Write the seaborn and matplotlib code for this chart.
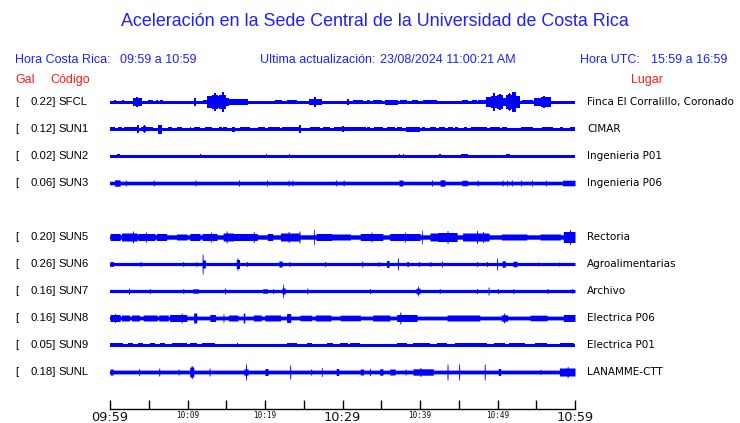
import numpy as np
import pandas as pd
import matplotlib
matplotlib.use("Agg")
import matplotlib.pyplot as plt
from matplotlib import transforms
import seaborn as sns

# ---------------- data ----------------
codes = ["SFCL", "SUN1", "SUN2", "SUN3", "SUN5", "SUN6", "SUN7", "SUN8", "SUN9", "SUNL"]
gal = ["0.22", "0.12", "0.02", "0.06", "0.20", "0.26", "0.16", "0.16", "0.05", "0.18"]
places = ["Finca El Corralillo, Coronado", "CIMAR", "Ingenieria P01", "Ingenieria P06",
          "Rectoria", "Agroalimentarias", "Archivo", "Electrica P06", "Electrica P01", "LANAMME-CTT"]
rows = [0, 1, 2, 3, 5, 6, 7, 8, 9, 10]          # row 4 is empty
tick_minutes = list(range(0, 61, 5))              # minutes after 09:59
tick_labels = ["09:59", "", "10:09", "", "10:19", "", "10:29", "", "10:39", "", "10:49", "", "10:59"]

# background noise level of each trace (half amplitude, pixels of the reference)
noise = [0.0, 0.0, 0.0, 1.8, 2.2, 1.6, 1.6, 1.9, 0.0, 1.9]

# bursts: (start minute, end minute, half amplitude)
sfcl = [(0.5,0.8,2),(1.6,1.8,2),(2.5,2.7,1.5),(3.0,4.1,3.5),(3.4,3.6,5),(4.9,5.6,2),(5.9,6.2,2),
        (6.5,6.8,2),(10.9,11.1,4),(12.0,12.6,2),(12.6,13.2,5.5),(13.2,13.9,7),(13.5,13.6,9),(13.9,14.2,5.5),
        (14.2,14.9,7),(14.5,14.6,9.5),(14.9,15.3,4),(15.3,17.7,2.2),(18.2,18.5,1.5),
        (21.3,22.2,2),(22.8,24.1,2),(25.8,27.3,2.5),(26.4,26.5,5),(28.6,29.0,1.5),(30.1,30.2,1.5),
        (30.6,30.8,3),(31.4,32.6,2),(33.2,33.5,2),(33.9,35.1,2),(35.5,37.2,2.5),(37.4,38.3,2),
        (39.0,39.7,2),(40.4,42.2,2),(44.7,44.8,1.5),(45.4,46.2,2),(46.7,47.4,2),(47.5,48.6,2),
        (48.6,49.2,4.5),(49.2,50.0,6),(49.5,49.6,8.5),(50.0,50.6,6.5),(50.3,50.4,8),(50.7,51.2,4),
        (51.2,51.9,7),(51.5,51.6,9),(51.9,52.3,9.5),(52.3,52.9,5.5),(53.2,54.6,2),(54.8,55.7,3.5),
        (55.7,56.8,4.5),(56.0,56.1,6),(57.4,58.1,1.5),(59.4,59.7,1.5)]
sun1 = [(0.0,0.65,2),(1.0,1.5,2),(1.9,3.6,2),(3.6,3.7,4),(4.1,5.5,2),(4.4,4.5,4),(6.2,6.7,4.5),
        (7.5,8.0,2),(8.6,9.3,2),(10.3,10.4,2),(10.9,11.6,2),(12.3,13.2,2),(14.0,14.5,2),
        (14.6,15.1,2),(15.8,16.1,2.5),(16.8,18.1,2),(19.1,20.0,2),(20.4,21.9,2),(22.3,24.5,2),
        (24.5,24.6,4),(25.1,25.2,2),(25.8,27.1,2),(27.5,28.4,2),(29.0,30.9,2),(30.0,30.1,3),
        (31.0,33.0,2),(33.2,33.6,2),(34.0,35.3,2),(35.7,36.8,2),(37.0,37.7,2),(38.2,40.0,2.5),
        (40.3,40.6,2),(41.3,42.0,2),(42.4,43.2,2),(43.6,44.3,2),(44.5,44.9,2),(45.7,46.0,2),
        (46.6,48.6,2),(49.0,50.3,2),(50.6,51.2,2),(53.0,54.6,2),(55.2,55.3,6),(55.8,57.2,2),
        (58.0,58.4,2),(59.3,60.0,2.2)]
sun2 = [(0.9,1.3,2),(1.5,1.6,1.5),(4.5,4.6,1.5),(5.1,5.2,2),(5.6,5.7,1.5),(8.6,8.7,1.5),
        (9.3,9.4,1.5),(9.6,9.7,1.5),(10.8,10.9,1.5),(11.1,11.2,1.5),(11.6,11.8,2),(12.0,12.1,1.5),
        (12.6,12.7,1.5),(13.2,13.3,1.5),(20.1,20.2,2),(23.1,23.2,2),(24.9,25.0,1.5),(27.9,28.0,1.5),
        (28.3,28.4,1.5),(29.1,29.2,2),(37.0,37.1,1.5),(37.3,37.4,2),(37.8,37.9,2),(42.5,42.7,2),
        (45.3,46.2,2),(47.3,47.4,1.5),(51.1,51.6,2),(52.8,52.9,1.5),(58.5,58.6,1.5),(59.0,59.1,1.5),
        (59.7,59.8,1.5)]
sun3 = [(0.6,1.3,3.2),(2.0,2.1,3),(5.6,5.7,3),(11.0,11.1,3),(16.6,16.7,3),(20.2,20.3,3),
        (23.0,23.1,3),(23.5,23.6,3),(29.1,29.2,3),(30.1,30.2,3),(37.3,37.8,3),(41.5,41.6,3),
        (42.6,43.2,3.2),(45.4,46.1,2.8),(47.4,47.5,3),(50.6,50.7,3),(51.2,51.3,3),(51.8,51.9,3),
        (53.0,53.1,3),(54.4,54.5,3),(56.2,56.3,3),(58.4,60.0,2.8)]
sun5 = [(0.0,1.3,3.5),(1.5,3.5,4),(2.9,3.0,6),(3.6,5.8,3.5),(4.6,4.7,5),(6.0,7.3,3.5),(8.6,9.9,3),
        (10.3,11.6,3.5),(11.9,13.8,3.5),(13.0,13.1,5),(14.6,15.9,4),(15.0,15.1,6),(15.9,19.0,3.5),
        (18.5,18.6,5.5),(20.3,21.0,3.5),(22.0,24.5,4),(23.0,23.1,5.5),(24.4,24.5,6),(26.3,26.4,8),
        (26.6,28.6,3.5),(28.6,31.0,3),(32.3,35.2,3.5),(33.7,33.8,5),(36.1,40.0,3.5),(38.0,38.1,5),
        (40.2,40.3,7),(41.3,42.6,4),(42.3,44.8,4.5),(43.5,43.6,6.5),(45.5,48.9,4),(47.3,47.4,6.5),
        (48.1,48.2,5.5),(50.5,53.8,3),(55.5,58.1,3),(58.5,60.0,5.5),(59.3,59.4,7.5)]
sun6 = [(0.0,0.4,2.5),(3.9,4.0,2.5),(9.4,9.5,2.5),(11.1,11.2,2.5),(11.9,12.0,10),(12.0,12.3,4),
        (16.3,16.7,4.5),(16.4,16.5,6),(17.6,17.7,2.5),(21.8,22.2,3),(23.1,23.2,2.5),(27.7,27.8,2.5),
        (32.5,32.6,3),(34.6,34.7,2.5),(35.7,36.0,3.5),(37.1,37.2,6),(38.3,38.5,2.5),(39.8,39.9,2.5),
        (41.3,41.4,2.5),(42.8,42.9,3),(47.3,47.4,2.5),(48.6,48.7,2.5),(49.9,50.0,6),(50.6,51.0,3.2),
        (52.0,52.5,2.8),(55.2,55.3,2),(57.9,58.0,2)]
sun7 = [(2.4,2.5,3),(5.1,5.2,2.5),(9.4,9.5,2.5),(10.7,11.4,2.2),(14.8,14.9,3),(19.7,20.3,2.2),
        (21.0,21.1,2.5),(22.2,22.6,3),(22.3,22.4,7),(25.4,25.5,3),(33.5,33.6,2.5),(39.5,40.0,2.8),
        (39.7,39.8,5),(42.5,42.6,2.5),(47.3,47.4,2.5),(48.8,48.9,4),(50.0,50.1,2.5),(52.0,52.1,2.5),
        (56.4,56.5,2.5),(59.6,59.7,2.5)]
sun8 = [(0.0,1.3,3.5),(0.6,0.7,4.5),(1.5,2.5,3),(2.8,3.8,3),(4.3,6.1,3),(6.3,7.5,3),(7.7,9.9,3.5),
        (9.2,9.3,5),(10.8,11.2,5),(12.9,13.6,3.5),(14.6,14.7,4.5),(15.3,16.5,3),(17.2,17.4,5),
        (18.5,19.5,3),(20.0,22.0,3),(22.8,23.3,4.5),(24.5,26.0,2.8),(26.5,28.5,3),(29.7,32.3,2.8),
        (33.9,36.1,3),(37.0,39.6,3.5),(37.4,37.5,6),(43.5,47.7,3),(50.5,51.3,3.2),(50.8,50.9,5),
        (54.2,56.4,2.8),(58.5,60.0,3.5)]
sun9 = [(0.0,1.7,2.2),(2.3,3.0,2),(3.6,4.3,2),(5.2,5.8,2),(6.5,7.1,2),(8.0,9.9,2),
        (10.3,11.2,2),(11.9,13.5,2),(14.8,14.9,2),(16.4,16.5,2),(18.3,18.4,2),(20.0,20.1,1.5),
        (21.9,22.0,1.5),(22.9,24.1,2),(25.4,26.1,2),(27.5,27.6,1.5),(28.0,28.8,2),(29.7,30.7,2),
        (31.0,32.3,2),(33.7,33.8,1.5),(35.7,35.8,1.5),(37.0,38.3,2),(39.1,41.3,2),(42.2,43.5,2),
        (44.5,48.7,2),(49.5,51.0,2),(51.5,53.6,2),(54.8,56.4,2),(58.0,59.9,2)]
sunl = [(0.0,0.4,3),(3.7,3.8,3.5),(6.3,6.4,4),(8.8,8.9,3),(10.3,10.8,5),(10.5,10.6,6.5),(12.8,12.9,4),
        (17.3,17.8,3.2),(17.5,17.6,8),(20.0,20.4,3.5),(23.2,23.3,7),(25.9,26.0,3),(27.3,27.4,4.5),
        (29.2,29.5,3.5),(32.3,32.7,3),(33.5,33.6,3.5),(34.8,35.2,3.2),(36.1,36.8,3),(38.1,38.2,3),
        (39.1,41.7,3.2),(40.0,40.1,4.5),(43.5,43.6,8),(45.0,45.1,8),(48.3,48.4,8),(50.1,50.4,3.5),
        (55.5,55.6,2.5),(58.0,60.0,4),(59.0,59.1,5.5)]
bursts = [sfcl, sun1, sun2, sun3, sun5, sun6, sun7, sun8, sun9, sunl]

# ---------------- style ----------------
BLUE = "#0000ff"
HBLUE = "#1f1fff"
RED = "#ff1a1a"
W, H = 740, 423
ROW_PX = 27.0

sns.set_style("white")
plt.rcParams["font.family"] = ["Liberation Sans", "DejaVu Sans"]

fig = plt.figure(figsize=(W / 100, H / 100), dpi=100)
fig.patch.set_facecolor("white")
ax = fig.add_axes([110 / W, 1 - 409 / H, 465 / W, (409 - 88) / H])

t = np.linspace(0, 60, 3001)
for row, base, bl in zip(rows, noise, bursts):
    env = np.full_like(t, base)
    for s, e, a in bl:
        m = (t >= s) & (t <= e)
        env[m] = np.maximum(env[m], a)
    ax.fill_between(t, row - env / ROW_PX, row + env / ROW_PX, where=env > 0, color=BLUE,
                    lw=0, antialiased=False)

base_df = pd.DataFrame({"t": np.repeat([[0.0, 60.0]], len(rows), axis=0).ravel(),
                        "row": np.repeat(rows, 2),
                        "code": np.repeat(codes, 2)})
sns.lineplot(data=base_df, x="t", y="row", units="code", estimator=None, color=BLUE,
             lw=0.75, ax=ax, antialiased=False)

ax.set_xlim(0, 60)
ax.set_ylim((409 - 102) / ROW_PX, (88 - 102) / ROW_PX)
ax.set_xlabel("")
ax.set_ylabel("")
ax.set_yticks([])
for side in ["left", "right", "top"]:
    ax.spines[side].set_visible(False)
ax.spines["bottom"].set_color("black")
ax.spines["bottom"].set_linewidth(1.0)
ax.set_facecolor("none")
ax.set_xticks(tick_minutes)
ax.set_xticklabels(tick_labels)
ax.tick_params(axis="x", direction="in", length=6.5, width=1.0, color="black", pad=1.5,
               bottom=True)
for i, lab in enumerate(ax.get_xticklabels()):
    lab.set_color("#111111")
    if i in (0, 6, 12):
        lab.set_fontsize(9.3)
        lab.set_family("DejaVu Sans")
    else:
        lab.set_fontsize(5.5)
        lab.set_family("DejaVu Sans Mono")

# ---------------- texts ----------------
def ftext(x, y, s, **kw):
    fig.text(x / W, 1 - y / H, s, va="center", **kw)

ftext(375, 22, "Aceleración en la Sede Central de la Universidad de Costa Rica",
      ha="center", fontsize=12.9, color=HBLUE)
ftext(15, 60, "Hora Costa Rica:", fontsize=9, color=HBLUE)
ftext(120, 60, "09:59 a 10:59", fontsize=9, color=HBLUE)
ftext(260, 60, "Ultima actualización:", fontsize=9, color=HBLUE)
ftext(380, 60, "23/08/2024 11:00:21 AM", fontsize=9, color=HBLUE)
ftext(580, 60, "Hora UTC:", fontsize=9, color=HBLUE)
ftext(651, 60, "15:59 a 16:59", fontsize=9, color=HBLUE)
ftext(15, 80, "Gal", fontsize=9, color=RED)
ftext(50, 80, "Código", fontsize=9, color=RED)
ftext(631, 80, "Lugar", fontsize=9, color=RED)

tr = transforms.blended_transform_factory(fig.transFigure, ax.transData)
for row, g, c, p in zip(rows, gal, codes, places):
    ax.text(15 / W, row, "[", transform=tr, va="center", ha="left", fontsize=8.2, color="black")
    ax.text(55.5 / W, row, g + "]", transform=tr, va="center", ha="right",
            fontsize=8.2, color="black")
    ax.text(58 / W, row, c, transform=tr, va="center", ha="left", fontsize=8.2, color="black")
    ax.text(587 / W, row, p, transform=tr, va="center", ha="left", fontsize=7.5,
            color="black", family="DejaVu Sans")

fig.savefig("out.png", dpi=100, facecolor="white")
